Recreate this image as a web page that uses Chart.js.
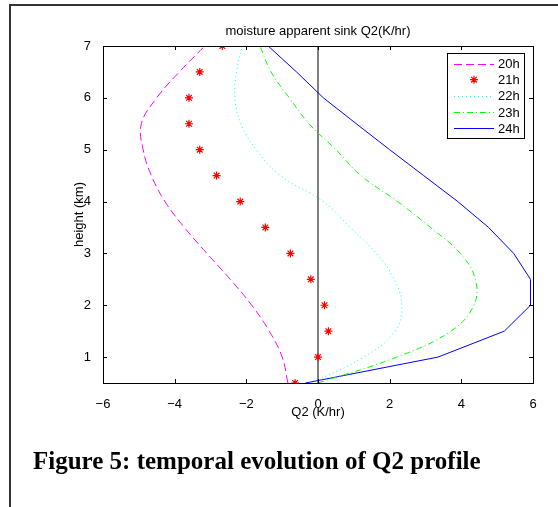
<!DOCTYPE html>
<html>
<head>
<meta charset="utf-8">
<script src="https://cdn.jsdelivr.net/npm/chart.js@4/dist/chart.umd.min.js"></script>
<style>
  body { margin: 0; background: #fff; }
  #wrap { position: relative; width: 558px; height: 507px; overflow: hidden; }
  #frame { position: absolute; left: 9px; top: 4px; width: 600px; height: 600px;
           border-top: 2px solid #333; border-left: 2px solid #333; }
  #myChart { position: absolute; left: 0; top: 0; }
  #caption { position: absolute; left: 33px; top: 447px; white-space: nowrap;
             font: bold 25px "Liberation Serif", "Times New Roman", serif; color: #000; }
</style>
</head>
<body>
<div id="wrap">
  <div id="frame"></div>
  <canvas id="myChart" width="558" height="507"></canvas>
  <div id="caption">Figure 5: temporal evolution of Q2 profile</div>
</div>
<script>
const heights = [0.5, 1, 1.5, 2, 2.5, 3, 3.5, 4, 4.5, 5, 5.5, 6, 6.5, 7];
const q20 = [-0.84, -1.0, -1.36, -1.85, -2.45, -3.1, -3.73, -4.27, -4.65, -4.88, -4.93, -4.5, -3.87, -3.16];
const q21 = [-0.64, 0.0, 0.29, 0.18, -0.2, -0.77, -1.47, -2.17, -2.83, -3.3, -3.6, -3.6, -3.3, -2.67];
const q22 = [-0.2, 1.28, 2.15, 2.34, 2.13, 1.63, 0.9, 0.15, -1.05, -1.72, -2.15, -2.32, -2.27, -2.12];
const q23 = [0.0, 2.2, 3.71, 4.35, 4.39, 3.97, 3.14, 2.22, 1.2, 0.5, -0.25, -0.8, -1.31, -1.62];
const q24 = [-0.35, 3.35, 5.2, 5.93, 5.93, 5.46, 4.76, 3.9, 2.95, 2.0, 1.07, 0.15, -0.6, -1.39];
const zeroLine = [0, 0];
const zeroHeights = [0.5, 7];
const seriesNames = ['20h', '21h', '22h', '23h', '24h'];
const xTicks = [-6, -4, -2, 0, 2, 4, 6];
const yTicks = [1, 2, 3, 4, 5, 6, 7];

const font = '"Liberation Sans", Arial, sans-serif';
const pts = (xs, ys) => xs.map((v, i) => ({x: v, y: ys[i]}));

const datasets = [
    {label: seriesNames[0], data: pts(q20, heights), showLine: true, borderColor: '#ff00ff', borderWidth: 1,
     borderDash: [8, 4], pointRadius: 0, tension: 0.4},
    {label: seriesNames[1], data: pts(q21, heights), showLine: false, borderColor: '#ff0000', backgroundColor: '#ff0000',
     pointStyle: 'star', pointRadius: 4, pointBorderWidth: 1.2},
    {label: seriesNames[2], data: pts(q22, heights), showLine: true, borderColor: '#00ffff', borderWidth: 1,
     borderDash: [1, 3], pointRadius: 0, tension: 0.4},
    {label: seriesNames[3], data: pts(q23, heights), showLine: true, borderColor: '#00ff00', borderWidth: 1,
     borderDash: [6, 3, 1, 3], pointRadius: 0, tension: 0.4},
    {label: seriesNames[4], data: pts(q24, heights), showLine: true, borderColor: '#0000ff', borderWidth: 1,
     pointRadius: 0, tension: 0},
    {label: 'zero', data: pts(zeroLine, zeroHeights), showLine: true, borderColor: '#000', borderWidth: 1,
     pointRadius: 0}
];

// matlab style frame, inward ticks, titles and legend box
const matlabFrame = {
    id: 'matlabFrame',
    afterDraw(chart) {
        const c = chart.ctx, a = chart.chartArea;
        const xs = chart.scales.x, ys = chart.scales.y;
        c.save();
        c.strokeStyle = '#000';
        c.lineWidth = 1;
        c.setLineDash([]);
        c.strokeRect(Math.round(a.left) + 0.5, Math.round(a.top) + 0.5,
                     Math.round(a.right - a.left), Math.round(a.bottom - a.top));
        const tl = 4;
        c.beginPath();
        xTicks.forEach(v => {
            const p = Math.round(xs.getPixelForValue(v)) + 0.5;
            c.moveTo(p, a.bottom); c.lineTo(p, a.bottom - tl);
            c.moveTo(p, a.top); c.lineTo(p, a.top + tl);
        });
        yTicks.forEach(v => {
            const p = Math.round(ys.getPixelForValue(v)) + 0.5;
            c.moveTo(a.left, p); c.lineTo(a.left + tl, p);
            c.moveTo(a.right, p); c.lineTo(a.right - tl, p);
        });
        c.stroke();

        c.fillStyle = '#000';
        c.font = '13px ' + font;
        c.textAlign = 'center';
        c.textBaseline = 'middle';
        const cx = (a.left + a.right) / 2;
        c.fillText('moisture apparent sink Q2(K/hr)', cx, 31);
        c.fillText('Q2 (K/hr)', cx, 412);
        c.save();
        c.translate(79, (a.top + a.bottom) / 2);
        c.rotate(-Math.PI / 2);
        c.fillText('height (km)', 0, 0);
        c.restore();

        // legend
        const lx = 447, ly = 53, lw = 77, lh = 85;
        c.fillStyle = '#fff';
        c.fillRect(lx, ly, lw, lh);
        c.strokeRect(lx + 0.5, ly + 0.5, lw, lh);
        c.textAlign = 'left';
        for (let i = 0; i < 5; i++) {
            const ds = datasets[i];
            const y = ly + 10.5 + i * 16.2;
            c.strokeStyle = ds.borderColor;
            if (ds.showLine) {
                c.setLineDash(ds.borderDash || []);
                c.beginPath();
                c.moveTo(454, Math.round(y) + 0.5);
                c.lineTo(494, Math.round(y) + 0.5);
                c.stroke();
                c.setLineDash([]);
            } else {
                const r = 4;
                c.lineWidth = 1.2;
                c.beginPath();
                for (let k = 0; k < 4; k++) {
                    const ang = k * Math.PI / 4;
                    c.moveTo(474 - r * Math.cos(ang), y - r * Math.sin(ang));
                    c.lineTo(474 + r * Math.cos(ang), y + r * Math.sin(ang));
                }
                c.stroke();
                c.lineWidth = 1;
            }
            c.fillStyle = '#000';
            c.fillText(ds.label, 498, y + 1);
        }
        c.restore();
    }
};

const ctx = document.getElementById('myChart').getContext('2d');
const myChart = new Chart(ctx, {
    type: 'scatter',
    data: {datasets: datasets},
    options: {
        responsive: false,
        animation: false,
        layout: {padding: {left: 0, top: 46, right: 25, bottom: 0}},
        plugins: {legend: {display: false}, tooltip: {enabled: false}},
        scales: {
            x: {
                type: 'linear', min: -6, max: 6,
                afterFit: s => { s.height = 124; },
                afterBuildTicks: s => { s.ticks = xTicks.map(v => ({value: v})); },
                grid: {display: false},
                border: {display: false},
                ticks: {color: '#000', padding: 6, font: {family: font, size: 13},
                        callback: v => String(v).replace('-', '\u2212')}
            },
            y: {
                type: 'linear', min: 0.5, max: 7,
                afterFit: s => { s.width = 103; },
                afterBuildTicks: s => { s.ticks = yTicks.map(v => ({value: v})); },
                grid: {display: false},
                border: {display: false},
                ticks: {color: '#000', padding: 4, font: {family: font, size: 13}}
            }
        }
    },
    plugins: [matlabFrame]
});
</script>
</body>
</html>
